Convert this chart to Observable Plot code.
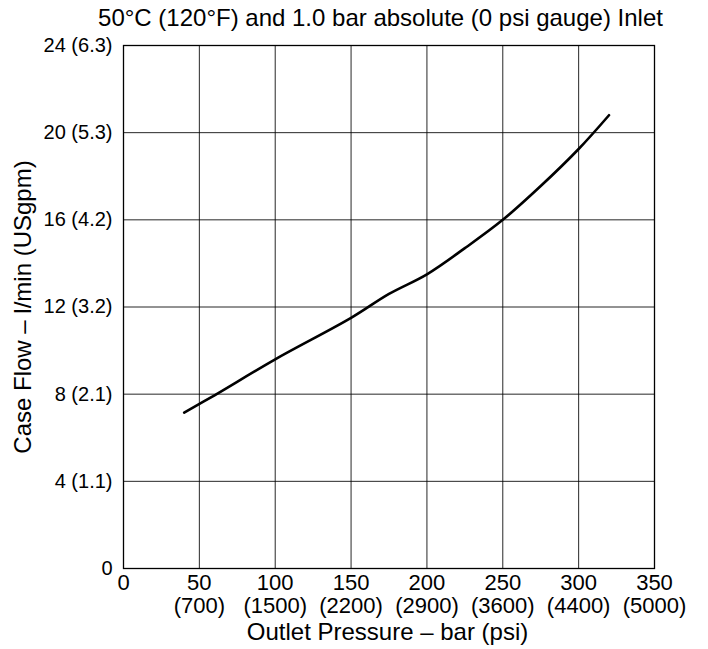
<!DOCTYPE html>
<html>
<head>
<meta charset="utf-8">
<script src="https://cdn.jsdelivr.net/npm/d3@7"></script>
<script src="https://cdn.jsdelivr.net/npm/@observablehq/plot@0.6"></script>
<style>
  html, body { margin: 0; padding: 0; background: #fff; }
  #chart svg { display: block; }
</style>
</head>
<body>
<div id="chart"></div>
<script>
// ---- Data ----
const titleText = "50°C (120°F) and 1.0 bar absolute (0 psi gauge) Inlet";
const xLabel = "Outlet Pressure – bar (psi)";
const yLabel = "Case Flow – l/min (USgpm)";

const xTicksBar = [0, 50, 100, 150, 200, 250, 300, 350];
const xTicksPsi = ["", "(700)", "(1500)", "(2200)", "(2900)", "(3600)", "(4400)", "(5000)"];

const yTicksLpm = [0, 4, 8, 12, 16, 20, 24];
const yTicksGpm = ["", "(1.1)", "(2.1)", "(3.2)", "(4.2)", "(5.3)", "(6.3)"];

const pressureBar = [40, 60, 100, 150, 175, 200, 225, 250, 275, 300, 320];
const caseFlowLpm = [7.15, 7.95, 9.6, 11.5, 12.6, 13.5, 14.7, 16.0, 17.55, 19.25, 20.8];

// ---- Build ----
const curve = pressureBar.map((p, i) => ({p, f: caseFlowLpm[i]}));
const xFmt = v => {
  const i = xTicksBar.indexOf(v);
  return xTicksPsi[i] ? `${v}\n${xTicksPsi[i]}` : `${v}`;
};
const yFmt = v => {
  const i = yTicksLpm.indexOf(v);
  return yTicksGpm[i] ? `${v} ${yTicksGpm[i]}` : `${v}`;
};

const chart = Plot.plot({
  width: 708,
  height: 649,
  marginTop: 45,
  marginRight: 54,
  marginBottom: 81,
  marginLeft: 123,
  style: {fontFamily: "'Liberation Sans', Arial, sans-serif", fontSize: "20px", color: "#000", background: "#fff"},
  x: {domain: [0, 350]},
  y: {domain: [0, 24]},
  marks: [
    Plot.gridX(xTicksBar, {stroke: "#000", strokeOpacity: 0.85, strokeWidth: 1}),
    Plot.gridY(yTicksLpm, {stroke: "#000", strokeOpacity: 0.85, strokeWidth: 1}),
    Plot.frame({stroke: "#000", strokeWidth: 1.3}),
    Plot.axisX(xTicksBar, {
      tickSize: 0, tickPadding: 5, tickFormat: xFmt, lineHeight: 1.05,
      label: null, fontSize: 22
    }),
    Plot.axisY(yTicksLpm, {
      tickSize: 0, tickPadding: 11, tickFormat: yFmt,
      label: null, fontSize: 20
    }),
    Plot.line(curve, {x: "p", y: "f", curve: "catmull-rom", stroke: "#000", strokeWidth: 2.6}),
    Plot.text([titleText], {frameAnchor: "top", dy: -27, dx: -8.5, fontSize: 24, fill: "#000", textAnchor: "middle", lineAnchor: "middle"}),
    Plot.text([xLabel], {frameAnchor: "bottom", dy: 64, dx: -1.5, fontSize: 24, fill: "#000", textAnchor: "middle", lineAnchor: "middle"}),
    Plot.text([yLabel], {frameAnchor: "left", dx: -100, rotate: -90, fontSize: 24, fill: "#000", textAnchor: "middle", lineAnchor: "middle"})
  ]
});
document.getElementById("chart").appendChild(chart);
</script>
</body>
</html>
